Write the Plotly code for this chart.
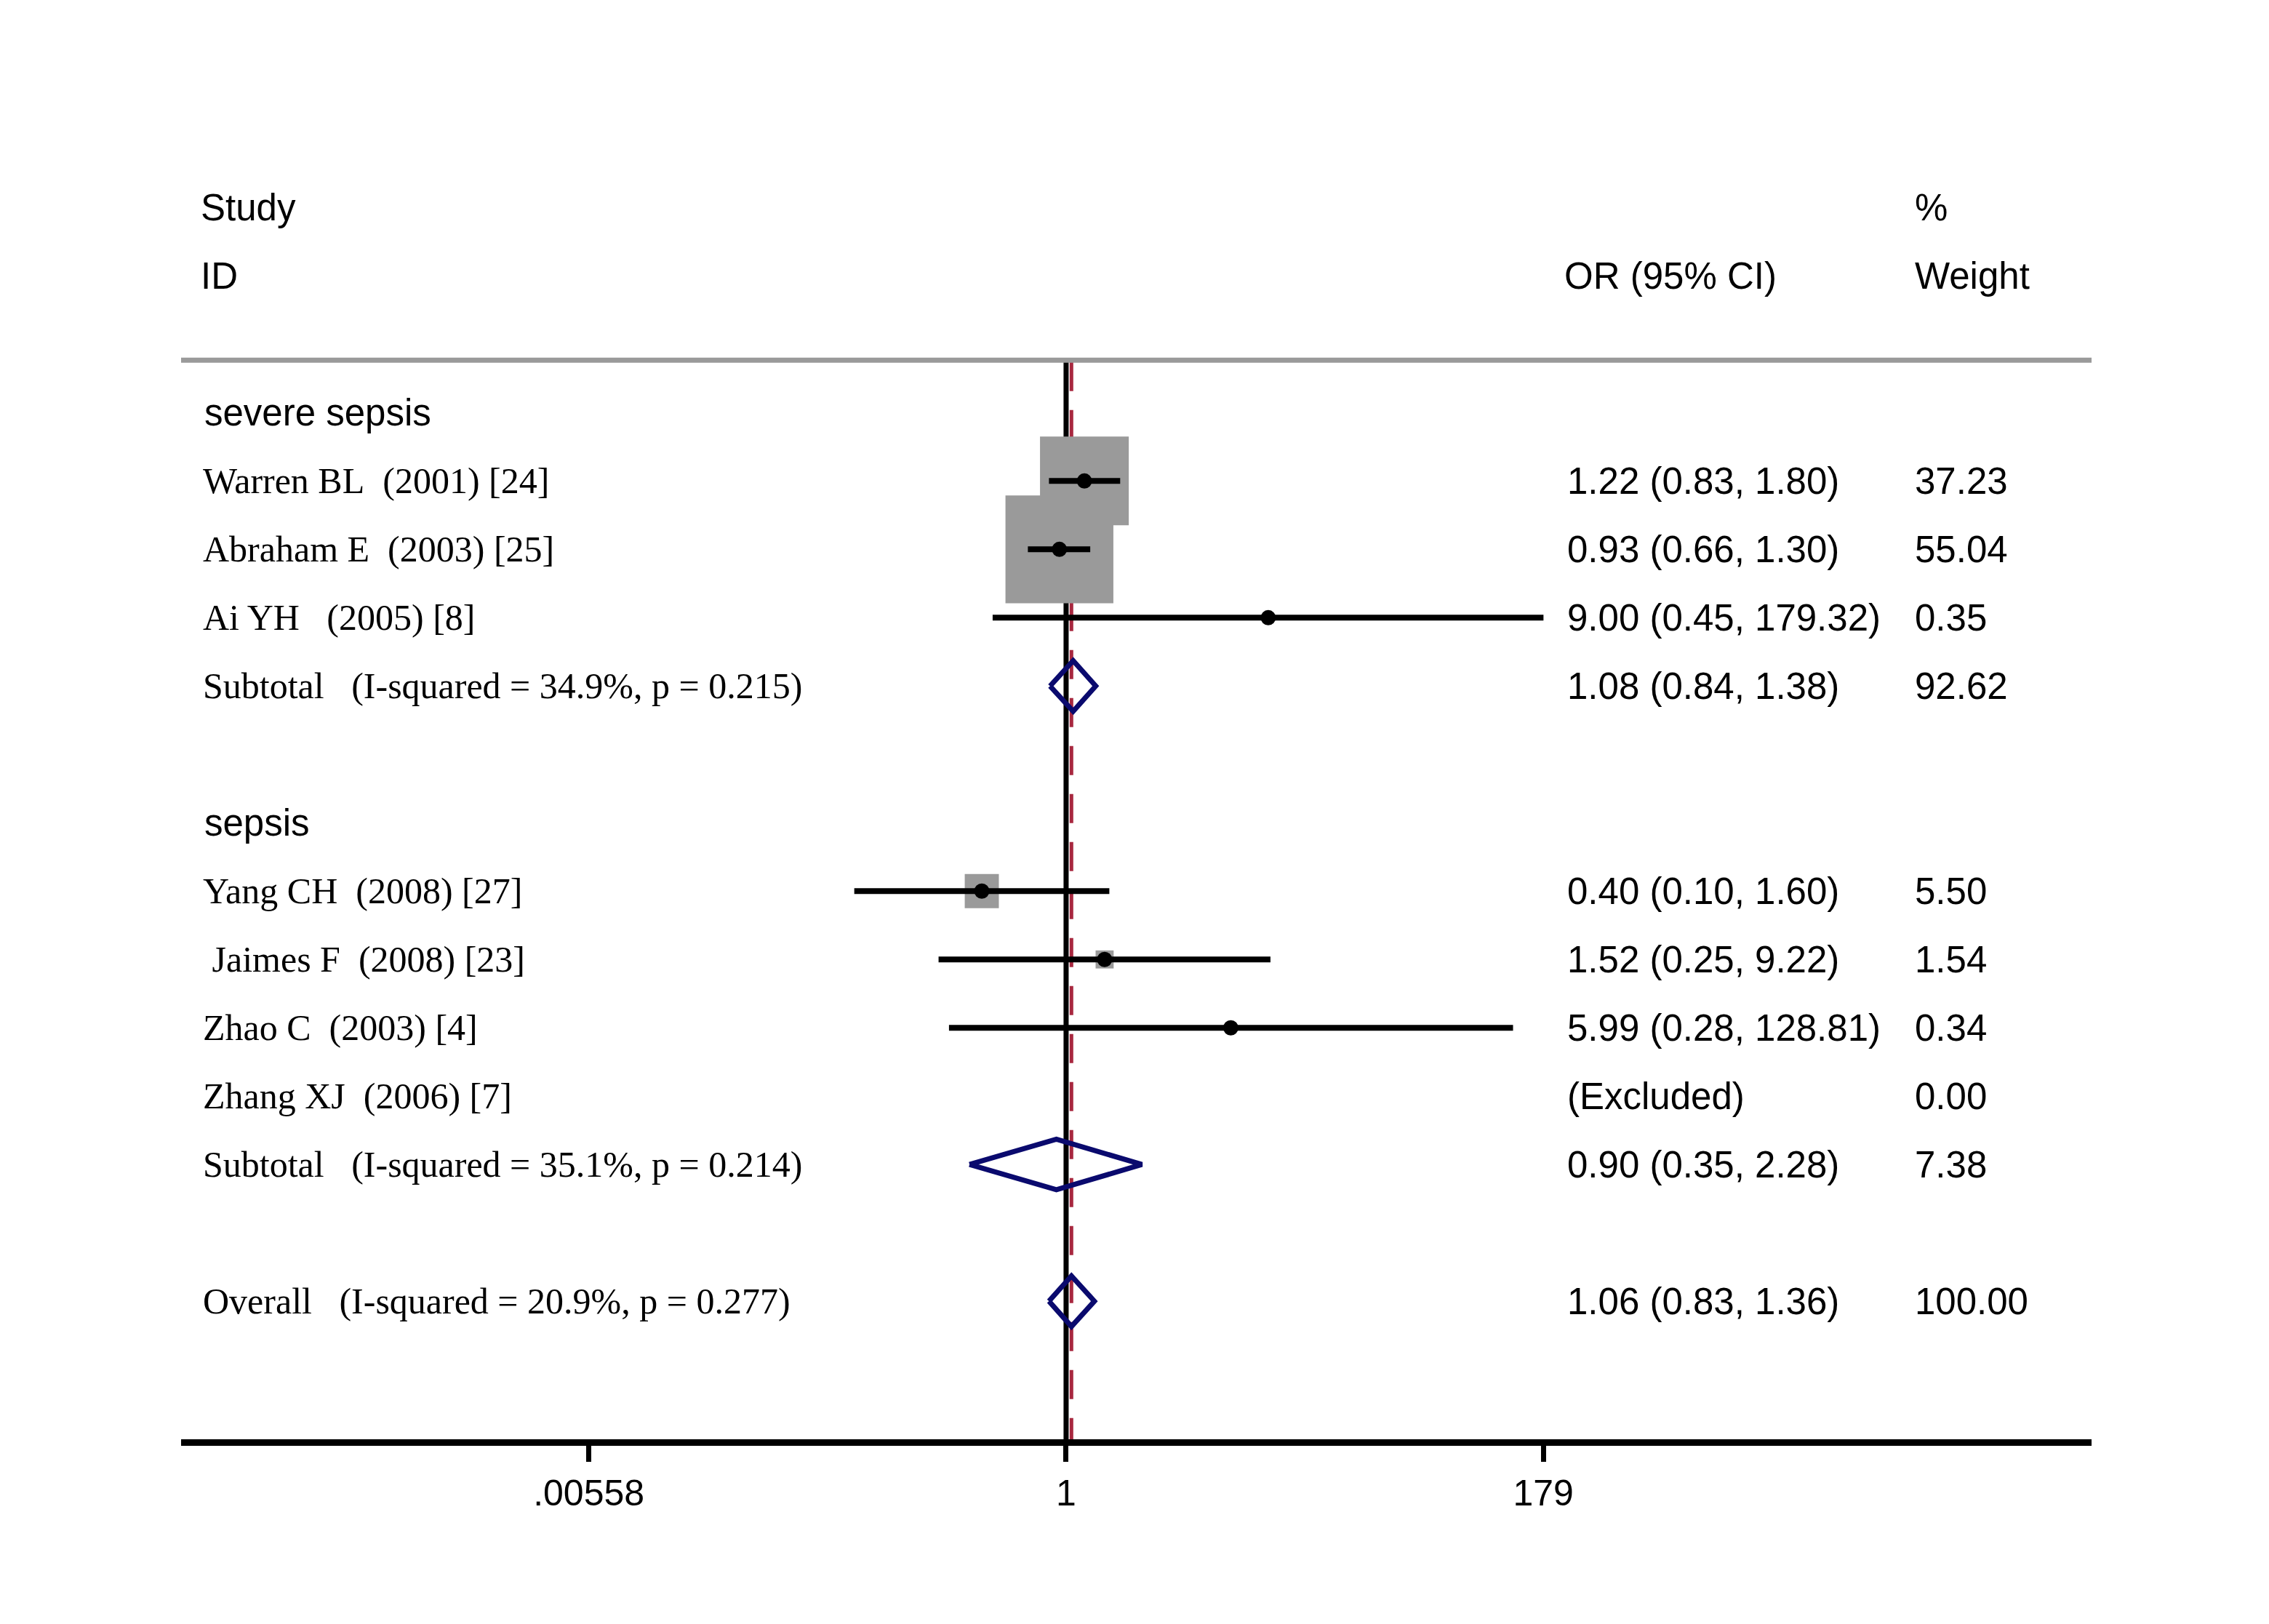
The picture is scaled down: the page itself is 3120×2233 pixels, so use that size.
import math
import plotly.graph_objects as go

# Study rows
study_labels = ["Warren BL\u00a0\u00a0(2001) [24]", "Abraham E\u00a0\u00a0(2003) [25]", "Ai YH\u00a0\u00a0\u00a0(2005) [8]",
                "Yang CH\u00a0\u00a0(2008) [27]", "\u00a0Jaimes F\u00a0\u00a0(2008) [23]", "Zhao C\u00a0\u00a0(2003) [4]",
                "Zhang XJ\u00a0\u00a0(2006) [7]"]
study_rows = [1, 2, 3, 7, 8, 9, 10]
study_or = [1.22, 0.93, 9.00, 0.40, 1.52, 5.99, None]
study_lo = [0.83, 0.66, 0.45, 0.10, 0.25, 0.28, None]
study_hi = [1.80, 1.30, 179.32, 1.60, 9.22, 128.81, None]
study_wt = [37.23, 55.04, 0.35, 5.50, 1.54, 0.34, 0.00]

# Pooled rows
pooled_labels = ["Subtotal\u00a0\u00a0\u00a0(I-squared = 34.9%, p = 0.215)",
                 "Subtotal\u00a0\u00a0\u00a0(I-squared = 35.1%, p = 0.214)",
                 "Overall\u00a0\u00a0\u00a0(I-squared = 20.9%, p = 0.277)"]
pooled_rows = [4, 11, 13]
pooled_or = [1.08, 0.90, 1.06]
pooled_lo = [0.84, 0.35, 0.83]
pooled_hi = [1.38, 2.28, 1.36]
pooled_wt = [92.62, 7.38, 100.00]

# Group headings
group_labels = ["severe sepsis", "sepsis"]
group_rows = [0, 6]

# Axis ticks
tick_vals = [0.00558, 1, 179]
tick_text = [".00558", "1", "179"]

SANS = "Liberation Sans, Arial, sans-serif"
SERIF = "Liberation Serif, Times New Roman, serif"
NAVY = "#0a0a6e"
GREY = "#9a9a9a"

row_top = -0.74
row_bottom = 15.02

fig = go.Figure()

# line of no effect and overall estimate
fig.add_trace(go.Scatter(x=[1, 1], y=[row_top, row_bottom], mode="lines",
                         line=dict(color="black", width=7), hoverinfo="skip"))
fig.add_trace(go.Scatter(x=[pooled_or[-1], pooled_or[-1]], y=[row_top, row_bottom], mode="lines",
                         line=dict(color="#a8283f", width=5, dash="40px,26px"), hoverinfo="skip"))

# weight boxes
bx, by, bs = [], [], []
for o, r, w in zip(study_or, study_rows, study_wt):
    if o is None:
        continue
    bx.append(o)
    by.append(r)
    bs.append(20 * math.sqrt(w))
fig.add_trace(go.Scatter(x=bx, y=by, mode="markers",
                         marker=dict(symbol="square", size=bs, color=GREY, opacity=1,
                                     line=dict(width=0)),
                         hoverinfo="skip"))

# confidence intervals
cx, cy = [], []
for lo, hi, r in zip(study_lo, study_hi, study_rows):
    if lo is None:
        continue
    cx += [lo, hi, None]
    cy += [r, r, None]
fig.add_trace(go.Scatter(x=cx, y=cy, mode="lines", line=dict(color="black", width=8),
                         hoverinfo="skip"))

# point estimates
fig.add_trace(go.Scatter(x=bx, y=by, mode="markers",
                         marker=dict(symbol="circle", size=21, color="black", opacity=1),
                         hoverinfo="skip"))

# diamonds
dh = 0.37
dx, dy = [], []
for o, lo, hi, r in zip(pooled_or, pooled_lo, pooled_hi, pooled_rows):
    dx += [lo, o, hi, o, lo, None]
    dy += [r, r - dh, r, r + dh, r, None]
fig.add_trace(go.Scatter(x=dx, y=dy, mode="lines", line=dict(color=NAVY, width=7),
                         hoverinfo="skip"))

ann = []


def txt(x, y, s, font, size=51):
    ann.append(dict(x=x, y=y, xref="paper", yref="y", text=s, showarrow=False,
                    xanchor="left", yanchor="middle",
                    font=dict(family=font, size=size, color="black")))


# headers
txt(0.0095, -3, "Study", SANS)
txt(0.0095, -2, "ID", SANS)
txt(0.7233, -2, "OR (95% CI)", SANS)
txt(0.9067, -3, "%", SANS)
txt(0.9067, -2, "Weight", SANS)

for s, r in zip(group_labels, group_rows):
    txt(0.0114, r, s, SANS)

for s, r, o, lo, hi, w in zip(study_labels, study_rows, study_or, study_lo, study_hi, study_wt):
    txt(0.0107, r, s, SERIF, 50)
    if o is None:
        txt(0.7248, r, "(Excluded)", SANS)
    else:
        txt(0.7248, r, f"{o:.2f} ({lo:.2f}, {hi:.2f})", SANS)
    txt(0.9067, r, f"{w:.2f}", SANS)

for s, r, o, lo, hi, w in zip(pooled_labels, pooled_rows, pooled_or, pooled_lo, pooled_hi, pooled_wt):
    txt(0.0107, r, s, SERIF, 50)
    txt(0.7248, r, f"{o:.2f} ({lo:.2f}, {hi:.2f})", SANS)
    txt(0.9067, r, f"{w:.2f}", SANS)

fig.update_layout(
    width=3120, height=2233,
    margin=dict(l=241, r=252, t=221, b=262),
    plot_bgcolor="white", paper_bgcolor="white",
    showlegend=False,
    annotations=ann,
    shapes=[dict(type="line", xref="paper", yref="y", x0=0, x1=1, y0=-0.766, y1=-0.766,
                 line=dict(color=GREY, width=7))],
    xaxis=dict(type="log", range=[-4.178, 4.841], showgrid=False, zeroline=False,
               showline=True, linecolor="black", linewidth=9,
               ticks="outside", ticklen=22, tickwidth=7, tickcolor="black",
               tickvals=tick_vals, ticktext=tick_text,
               tickfont=dict(family=SANS, size=50, color="black")),
    yaxis=dict(range=[row_bottom, -3.6], showgrid=False, zeroline=False,
               showticklabels=False, showline=False, ticks=""),
)

fig.write_html("out.html")
